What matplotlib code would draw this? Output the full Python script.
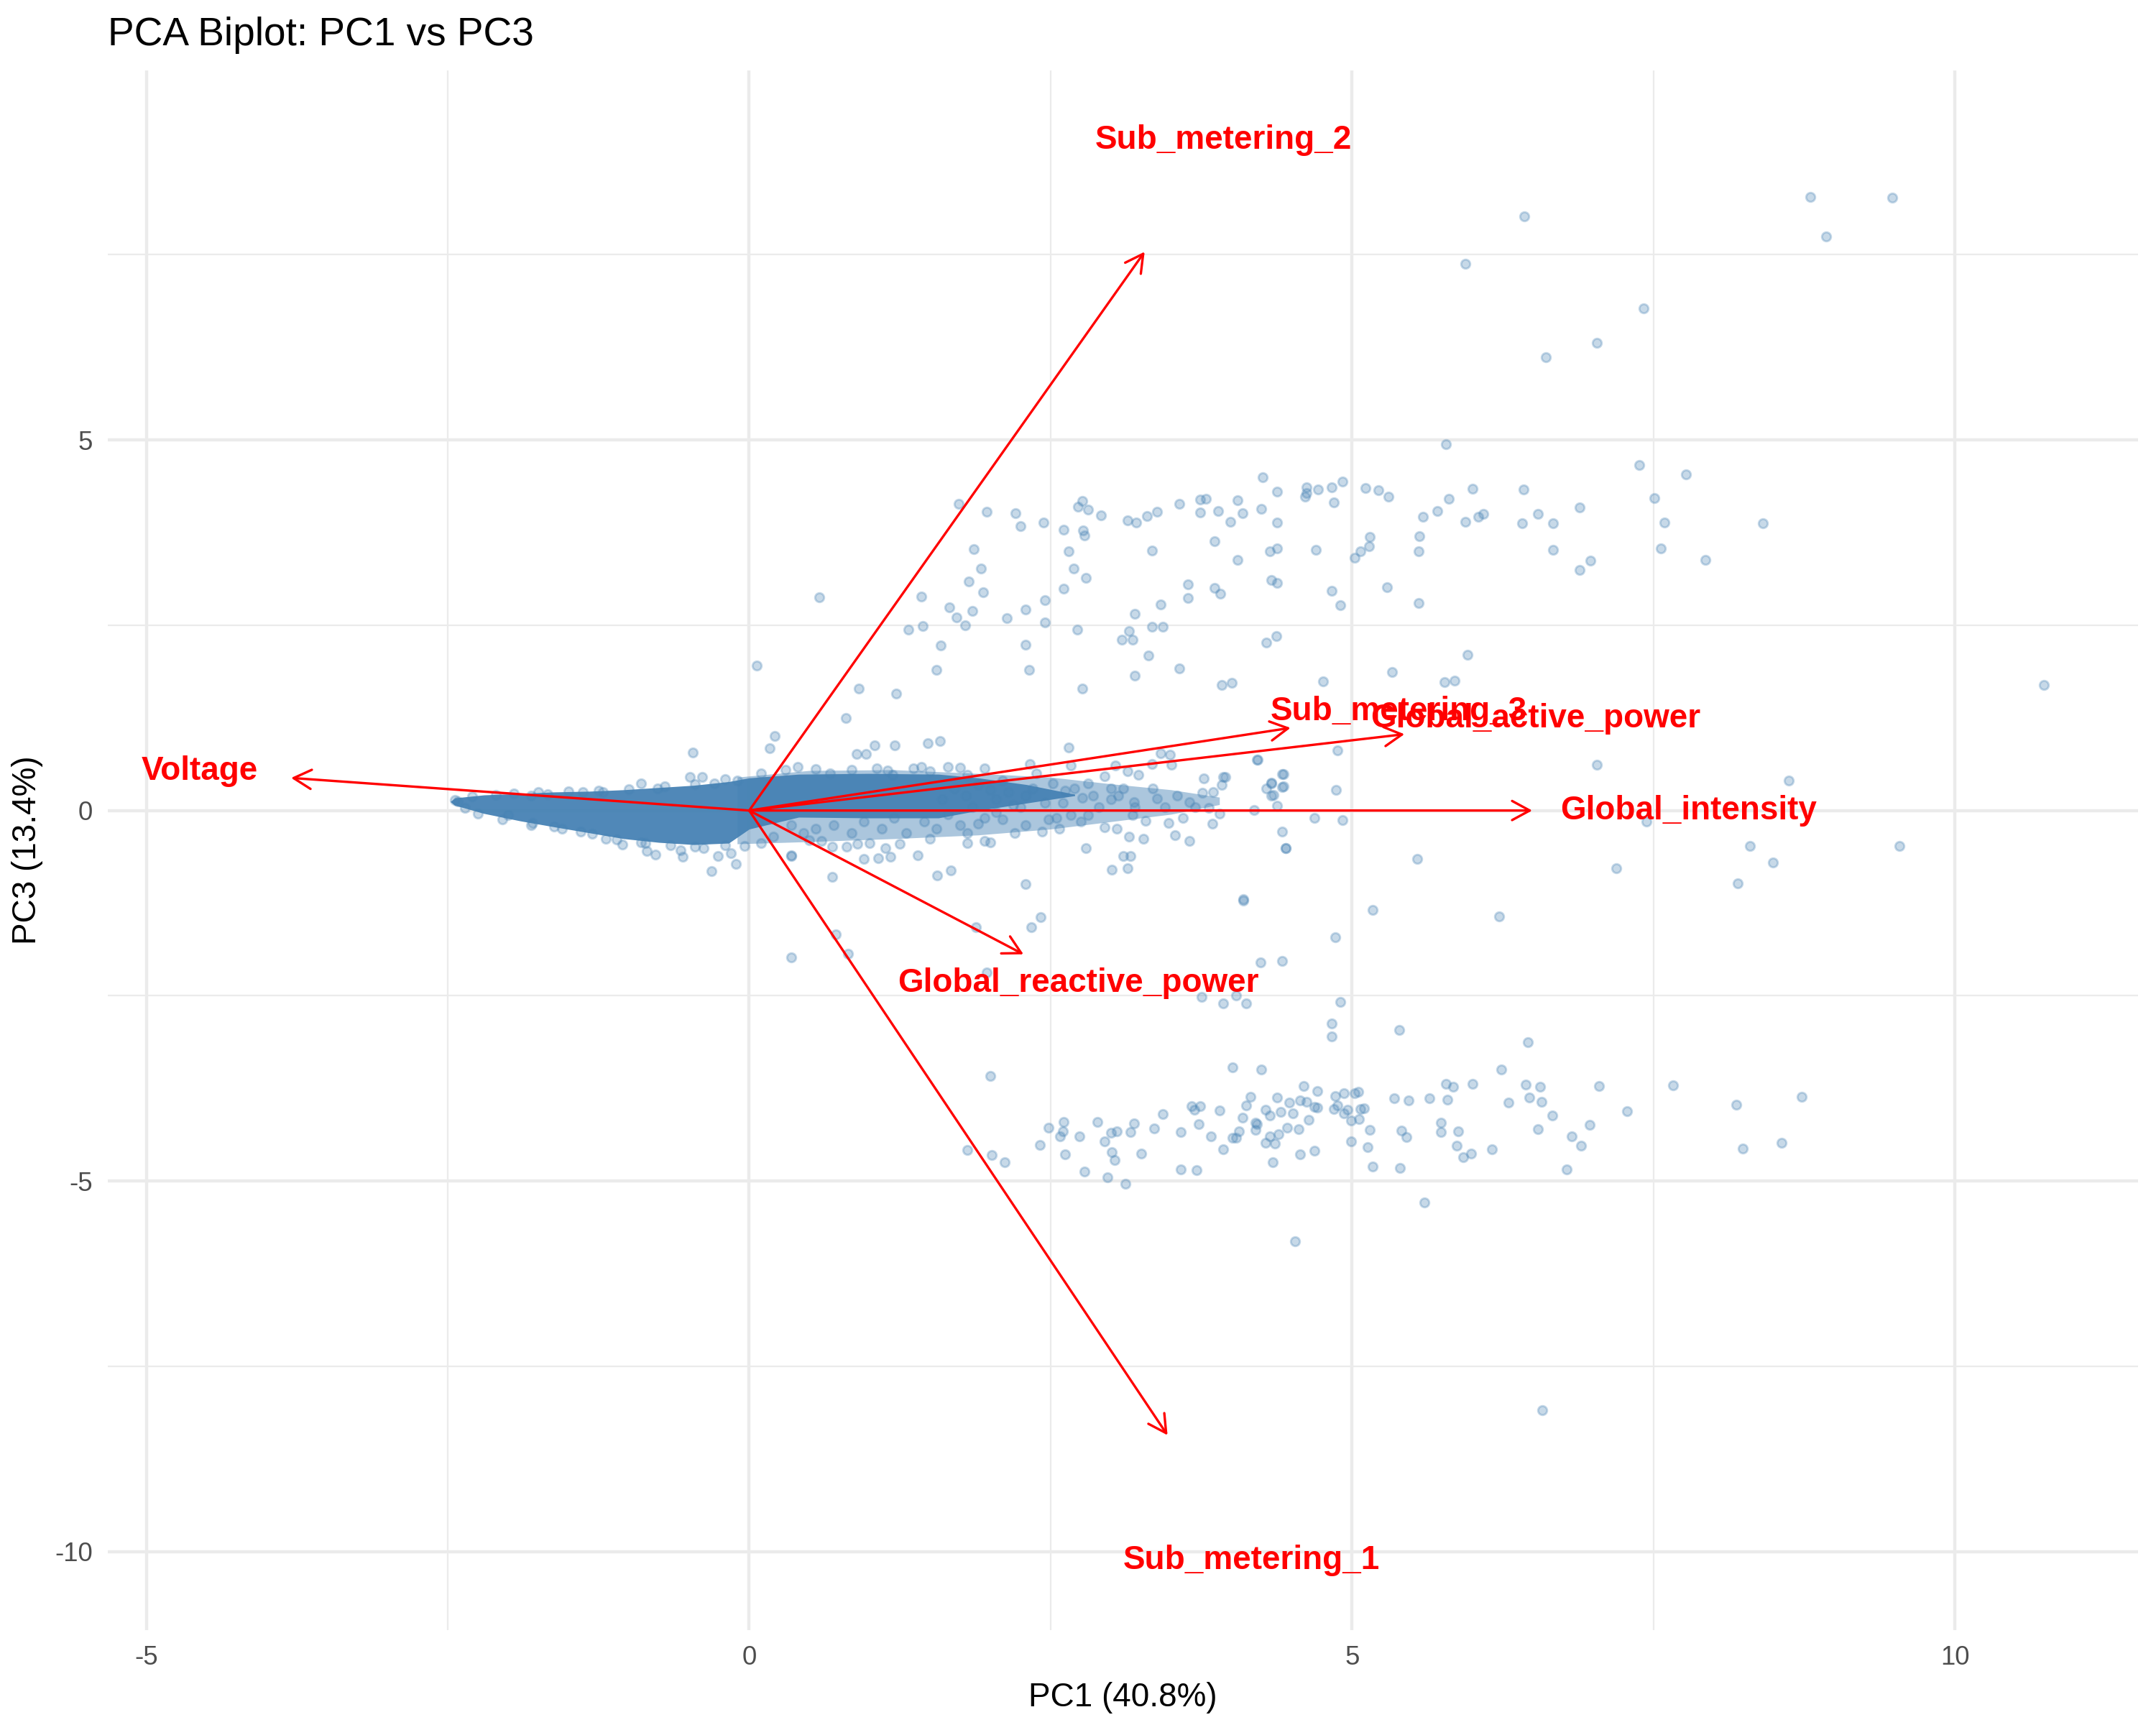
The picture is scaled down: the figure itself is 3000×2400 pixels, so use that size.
import matplotlib
matplotlib.use("Agg")
import matplotlib.pyplot as plt
import numpy as np

plt.rcParams["font.family"] = ["Liberation Sans", "DejaVu Sans"]
plt.rcParams["axes.unicode_minus"] = False

# variable loadings (arrow tips, already scaled to score space)
variables = ["Global_active_power", "Global_reactive_power", "Voltage",
             "Global_intensity", "Sub_metering_1", "Sub_metering_2", "Sub_metering_3"]
load_pc1 = [5.435, 2.275, -3.80, 6.495, 3.47, 3.28, 4.49]
load_pc3 = [1.03, -1.94, 0.44, 0.0, -8.43, 7.54, 1.115]

# dense core of the score cloud (too many overlapping points to read one by one)
core_pc1 = [-2.48, -2.44, -2.2, -1.9, -1.62, -1.33, -1.04, -0.75, -0.46, -0.17, 0.0,
            0.41, 0.99, 1.57, 1.9, 2.3, 2.7]
core_top = [0.12, 0.17, 0.21, 0.23, 0.25, 0.26, 0.28, 0.31, 0.34, 0.39, 0.44,
            0.49, 0.50, 0.49, 0.44, 0.35, 0.22]
core_bot = [0.12, 0.07, -0.04, -0.14, -0.22, -0.30, -0.38, -0.43, -0.46, -0.44, -0.25,
            -0.09, -0.10, -0.10, 0.0, 0.10, 0.20]

# medium-density halo to the right of the origin
halo_pc1 = [-0.1, 0.5, 1.2, 1.9, 2.5, 3.0, 3.5, 3.9]
halo_top = [0.45, 0.54, 0.55, 0.50, 0.45, 0.36, 0.28, 0.18]
halo_bot = [-0.45, -0.42, -0.38, -0.33, -0.25, -0.15, -0.05, 0.08]

# points around the core
fringe_points = [
    (0.80, 1.25), (0.21, 1.01), (0.17, 0.84), (-0.47, 0.78), (0.89, 0.76), (0.97, 0.76),
    (1.04, 0.88), (1.21, 0.88), (1.48, 0.91), (1.58, 0.94), (2.65, 0.85), (3.41, 0.77),
    (3.49, 0.75), (4.22, 0.69), (0.40, 0.59), (2.33, 0.63), (1.65, 0.59), (1.75, 0.58),
    (1.95, 0.57), (2.67, 0.61), (3.04, 0.61), (3.14, 0.53), (3.23, 0.48), (3.34, 0.63),
    (3.50, 0.62), (3.77, 0.43), (3.93, 0.45), (4.33, 0.37), (4.42, 0.49), (4.42, 0.32),
    (4.33, 0.20), (3.76, 0.24), (3.65, 0.11), (3.38, 0.16), (3.19, 0.11), (3.06, 0.20),
    (3.00, 0.30), (2.95, 0.46), (2.81, 0.37), (2.76, 0.17), (2.62, 0.27), (2.52, 0.37),
    (2.38, 0.50), (2.29, 0.20), (2.19, 0.07), (2.05, -0.02), (1.90, -0.18), (1.81, -0.44),
    (1.95, -0.41), (2.00, -0.43), (1.81, -0.30), (2.10, -0.12), (2.29, -0.20), (2.43, -0.28),
    (2.48, -0.12), (2.57, -0.25), (2.67, -0.06), (2.81, -0.06), (2.95, -0.23), (3.18, -0.06),
    (3.29, -0.14), (3.48, -0.17), (3.53, -0.33), (3.65, -0.41), (3.84, -0.18), (3.90, -0.04),
    (3.81, 0.04), (3.15, -0.35), (3.27, -0.38), (2.79, -0.51), (3.10, -0.61), (3.16, -0.61),
    (3.01, -0.80), (3.14, -0.78), (2.29, -0.99), (1.67, -0.81), (1.56, -0.88), (1.40, -0.60),
    (1.17, -0.62), (1.07, -0.64), (0.95, -0.65), (1.13, -0.51), (1.00, -0.44), (0.81, -0.49),
    (0.69, -0.49), (0.60, -0.41), (0.69, -0.90), (0.35, -0.61), (0.10, -0.44), (-0.04, -0.48),
    (-0.11, -0.72), (-0.31, -0.82), (-0.26, -0.61), (-0.38, -0.51), (-0.57, -0.54), (-0.78, -0.59),
    (-1.05, -0.46), (-0.86, -0.44), (-1.19, -0.38), (-1.40, -0.28), (-1.62, -0.22), (-1.81, -0.20),
    (-2.00, -0.06), (-2.36, 0.04), (-2.42, 0.12), (-0.90, 0.37), (-0.76, 0.30), (-0.49, 0.45),
    (-0.39, 0.45), (-0.29, 0.37), (-0.10, 0.40), (-1.38, 0.25), (-1.21, 0.25), (-1.67, 0.22),
    (-1.81, 0.20), (0.67, 0.50), (1.06, 0.57), (1.19, 0.48), (1.36, 0.57), (1.43, 0.59),
    (1.81, 0.48), (4.19, 0.01), (4.45, -0.51), (4.10, -1.20), (4.38, 0.06), (0.35, -0.60),
    (0.35, -1.98), (0.72, -1.67), (0.82, -1.93),
    (0.35, -0.20), (0.45, -0.30), (0.55, -0.25), (0.70, -0.20), (0.85, -0.30), (0.95, -0.15),
    (1.10, -0.25), (1.20, -0.10), (1.30, -0.30), (1.45, -0.15), (1.55, -0.25), (1.65, -0.05),
    (1.75, -0.20), (1.85, 0.05), (1.95, -0.10), (2.05, 0.15), (2.15, 0.25), (2.25, 0.05),
    (2.35, 0.30), (2.45, 0.10), (1.70, 0.30), (1.80, 0.20), (1.90, 0.35), (2.00, 0.28),
    (2.10, 0.40), (1.60, 0.15), (0.20, -0.35), (0.50, -0.40), (0.90, -0.45), (1.25, -0.45),
    (1.50, -0.38), (2.20, -0.30), (2.60, 0.10), (2.70, 0.30), (2.85, 0.20), (2.90, 0.05),
    (3.00, 0.15), (3.10, 0.30), (2.55, -0.10), (2.75, -0.15), (3.05, -0.25), (3.20, 0.05),
    (3.35, 0.30), (3.45, 0.05), (3.55, 0.20), (3.70, 0.05), (3.85, 0.25), (3.60, -0.10),
    (-2.44, 0.14), (-2.30, 0.19), (-2.10, 0.21), (-1.95, 0.23), (-1.75, 0.25), (-1.50, 0.26),
    (-1.25, 0.27), (-1.00, 0.29), (-0.70, 0.33), (-0.45, 0.36), (-0.20, 0.42), (-2.25, -0.04),
    (-2.05, -0.12), (-1.80, -0.17), (-1.55, -0.25), (-1.30, -0.31), (-1.10, -0.39), (-0.90, -0.43),
    (-0.65, -0.47), (-0.45, -0.49), (-0.20, -0.47), (-0.55, -0.62), (-0.85, -0.55), (-0.15, -0.58),
    (0.10, 0.50), (0.30, 0.55), (0.55, 0.56), (0.85, 0.55), (1.15, 0.54), (1.50, 0.53),
]

# points of the middle band to the right
band_points = [
    (3.92, 1.69), (5.77, 1.73), (4.88, 0.81), (4.21, 0.69), (3.95, 0.45), (3.92, 0.35),
    (4.43, 0.49), (4.33, 0.38), (4.29, 0.30), (4.35, 0.21), (4.43, 0.33), (4.87, 0.28),
    (7.03, 0.62), (8.62, 0.40), (4.69, -0.10), (4.92, -0.13), (4.42, -0.28), (4.45, -0.51),
    (5.54, -0.65), (7.44, -0.15), (8.30, -0.48), (8.49, -0.70), (9.54, -0.48), (8.20, -0.98),
    (7.19, -0.78), (6.22, -1.43), (5.17, -1.34), (4.86, -1.71), (10.74, 1.69), (4.76, 1.74),
    (0.91, 1.65), (1.22, 1.58), (2.76, 1.65), (0.06, 1.96), (0.58, 2.88),
    (1.88, -1.57), (2.34, -1.57), (2.42, -1.44), (1.97, -2.19), (4.10, -1.22), (4.24, -2.05),
    (4.42, -2.03), (3.75, -2.52), (3.93, -2.60), (4.04, -2.50), (4.12, -2.60), (4.90, -2.58),
]

# upper group (PC3 about 2 to 8)
upper_points = [
    (5.78, 4.94), (7.38, 4.66), (7.77, 4.54), (4.26, 4.50), (4.92, 4.44), (4.62, 4.36),
    (4.72, 4.33), (4.83, 4.36), (5.11, 4.35), (5.22, 4.32), (5.30, 4.24), (6.00, 4.34),
    (6.42, 4.33), (4.38, 4.30), (4.61, 4.24), (4.62, 4.28), (4.85, 4.16), (5.80, 4.21),
    (7.51, 4.22), (3.74, 4.20), (3.79, 4.21), (4.05, 4.19), (3.57, 4.14), (2.76, 4.18),
    (2.73, 4.10), (2.81, 4.06), (1.74, 4.14), (1.97, 4.03), (2.21, 4.01), (2.25, 3.84),
    (2.44, 3.89), (2.92, 3.98), (3.14, 3.92), (3.21, 3.89), (3.30, 3.97), (3.38, 4.03),
    (3.74, 4.02), (3.89, 4.04), (3.99, 3.90), (4.09, 4.01), (4.25, 4.07), (4.38, 3.89),
    (6.89, 4.09), (5.71, 4.04), (5.59, 3.96), (5.94, 3.90), (6.05, 3.96), (6.09, 4.00),
    (6.54, 4.00), (6.41, 3.88), (6.67, 3.88), (7.59, 3.89), (8.41, 3.88), (2.61, 3.79),
    (2.77, 3.78), (2.78, 3.71), (5.15, 3.69), (5.56, 3.70), (3.86, 3.63), (1.86, 3.53),
    (2.65, 3.50), (3.34, 3.51), (4.32, 3.50), (4.38, 3.54), (4.70, 3.52), (5.14, 3.57),
    (5.07, 3.50), (5.02, 3.41), (5.55, 3.50), (6.67, 3.52), (7.56, 3.54), (6.98, 3.37),
    (6.89, 3.25), (7.93, 3.38), (4.05, 3.38), (1.92, 3.27), (2.69, 3.27), (2.79, 3.14),
    (1.82, 3.09), (1.94, 2.95), (2.61, 2.99), (3.64, 3.05), (3.86, 3.00), (3.91, 2.93),
    (4.33, 3.11), (4.38, 3.07), (4.83, 2.96), (5.29, 3.01), (1.43, 2.89), (1.66, 2.74),
    (1.85, 2.69), (1.72, 2.61), (1.79, 2.50), (2.14, 2.60), (2.29, 2.71), (2.45, 2.84),
    (2.45, 2.54), (3.64, 2.87), (3.41, 2.78), (3.20, 2.65), (3.34, 2.48), (3.43, 2.48),
    (4.90, 2.77), (5.55, 2.80), (1.32, 2.44), (1.44, 2.49), (2.72, 2.44), (3.15, 2.42),
    (3.09, 2.31), (3.18, 2.31), (1.59, 2.23), (2.29, 2.24), (4.29, 2.27), (4.37, 2.35),
    (3.31, 2.09), (5.96, 2.10), (1.55, 1.90), (2.32, 1.90), (3.57, 1.92), (5.33, 1.87),
    (3.20, 1.82), (5.85, 1.75), (4.00, 1.72),
    (6.43, 8.02), (5.94, 7.38), (7.42, 6.78), (7.03, 6.31), (6.61, 6.12), (8.80, 8.28),
    (9.48, 8.27), (8.93, 7.75),
]

# lower group (PC3 about -3 to -6)
lower_points = [
    (4.83, -2.87), (4.83, -3.05), (5.39, -2.96), (6.46, -3.13), (2.00, -3.58), (4.01, -3.47),
    (4.25, -3.49), (6.24, -3.49), (4.60, -3.72), (4.71, -3.79), (5.78, -3.69), (5.84, -3.73),
    (6.00, -3.69), (6.44, -3.70), (6.56, -3.73), (7.05, -3.72), (7.66, -3.71), (8.73, -3.86),
    (8.19, -3.97), (7.28, -4.06), (4.16, -3.86), (4.38, -3.87), (4.48, -3.94), (4.57, -3.91),
    (4.62, -3.93), (4.86, -3.85), (4.93, -3.81), (5.02, -3.81), (5.05, -3.80), (5.35, -3.88),
    (5.47, -3.91), (5.64, -3.88), (5.79, -3.90), (6.30, -3.94), (6.47, -3.87), (6.57, -3.93),
    (6.66, -4.12), (6.97, -4.24), (6.82, -4.40), (6.90, -4.52), (6.78, -4.84), (8.24, -4.56),
    (8.56, -4.48), (6.54, -4.30), (6.16, -4.57), (5.99, -4.63), (5.92, -4.68), (5.87, -4.52),
    (5.88, -4.33), (5.74, -4.34), (5.74, -4.21), (5.45, -4.41), (5.41, -4.32), (5.15, -4.31),
    (5.13, -4.54), (4.99, -4.46), (5.17, -4.80), (5.40, -4.82), (5.06, -4.16), (4.99, -4.18),
    (4.93, -4.09), (4.96, -4.04), (5.07, -4.03), (5.10, -4.02), (4.88, -3.98), (4.85, -4.03),
    (4.71, -4.01), (4.69, -4.00), (4.64, -4.17), (4.51, -4.09), (4.41, -4.07), (4.32, -4.12),
    (4.28, -4.04), (4.12, -3.98), (4.09, -4.14), (4.20, -4.21), (4.21, -4.23), (4.20, -4.31),
    (4.06, -4.33), (4.01, -4.42), (4.04, -4.42), (4.32, -4.40), (4.39, -4.37), (4.46, -4.28),
    (4.56, -4.30), (4.36, -4.49), (4.28, -4.48), (4.34, -4.75), (4.57, -4.64), (4.69, -4.59),
    (3.93, -4.57), (3.83, -4.40), (3.90, -4.05), (3.74, -3.99), (3.67, -3.99), (3.69, -4.04),
    (3.73, -4.23), (3.58, -4.34), (3.43, -4.10), (3.36, -4.29), (3.19, -4.22), (3.16, -4.34),
    (3.05, -4.33), (3.00, -4.35), (2.89, -4.20), (2.74, -4.40), (2.61, -4.20), (2.60, -4.33),
    (2.58, -4.40), (2.48, -4.28), (2.41, -4.51), (2.62, -4.64), (2.95, -4.46), (3.01, -4.61),
    (3.03, -4.72), (3.25, -4.63), (2.78, -4.87), (2.97, -4.95), (3.12, -5.04), (3.58, -4.84),
    (3.71, -4.85), (1.81, -4.58), (2.01, -4.65), (2.12, -4.75), (5.60, -5.29), (4.53, -5.81),
    (6.58, -8.09),
]

all_points = fringe_points + band_points + upper_points + lower_points
pc1 = np.array([p[0] for p in all_points])
pc3 = np.array([p[1] for p in all_points])

fig = plt.figure(figsize=(10, 8), dpi=300)
ax = fig.add_axes([0.05, 0.055, 0.9417, 0.9043])

ax.set_xlim(-5.32, 11.52)
ax.set_ylim(-11.06, 9.99)
for s in ax.spines.values():
    s.set_visible(False)
ax.set_xticks([-5, 0, 5, 10])
ax.set_yticks([-10, -5, 0, 5])
ax.set_xticks([-2.5, 2.5, 7.5], minor=True)
ax.set_yticks([-7.5, -2.5, 2.5, 7.5], minor=True)
ax.tick_params(which="both", length=0)
ax.tick_params(axis="x", pad=5, labelsize=8.8, labelcolor="#4D4D4D")
ax.tick_params(axis="y", pad=5, labelsize=8.8, labelcolor="#4D4D4D")
ax.grid(which="major", color="#EBEBEB", linewidth=1.07)
ax.grid(which="minor", color="#EBEBEB", linewidth=0.53)
ax.set_axisbelow(True)

ax.fill_between(halo_pc1, halo_bot, halo_top, color="#4682B4", alpha=0.45,
                linewidth=0, zorder=2)
ax.fill_between(core_pc1, core_bot, core_top, color="#4682B4", alpha=0.95,
                linewidth=0, zorder=2)
ax.scatter(pc1, pc3, s=9, c="#4682B4", edgecolors="#4682B4", linewidths=0.7,
           alpha=0.3, zorder=3)

for name, lx, ly in zip(variables, load_pc1, load_pc3):
    ax.annotate("", xy=(lx, ly), xytext=(0, 0),
                arrowprops=dict(arrowstyle="->,head_length=0.59,head_width=0.32",
                                mutation_scale=10, shrinkA=0, shrinkB=0,
                                lw=0.8, color="red"),
                zorder=4)
    ax.text(lx * 1.2, ly * 1.2, name, color="red", fontsize=11, fontweight="bold",
            ha="center", va="center", zorder=5)

ax.set_title("PCA Biplot: PC1 vs PC3", loc="left", fontsize=13.2, pad=8.4)
ax.set_xlabel("PC1 (40.8%)", fontsize=11, labelpad=4)
ax.set_ylabel("PC3 (13.4%)", fontsize=11, labelpad=4)

fig.savefig("out.png", dpi=300)
